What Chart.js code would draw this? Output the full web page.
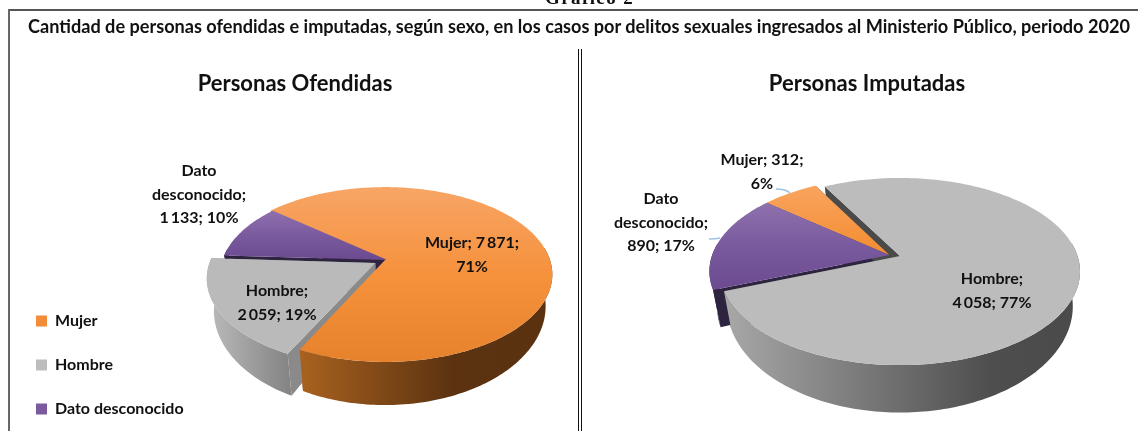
<!DOCTYPE html>
<html lang="es">
<head>
<meta charset="utf-8">
<title>Gráfico 2</title>
<script src="https://cdn.jsdelivr.net/npm/chart.js@4/dist/chart.umd.min.js"></script>
<style>
  html, body { margin: 0; padding: 0; background: #fff; }
  #page { position: relative; width: 1138px; height: 431px; overflow: hidden; font-family: Lato, sans-serif; filter: blur(0.45px); }
  #grafico { position: absolute; left: 545px; top: -12px; font: bold 19px/19px "Liberation Serif", serif; letter-spacing: 1.4px; color: #111; white-space: nowrap; }
  #titulo { position: absolute; left: 28px; top: 15px; font: bold 18.14px/22px Lato, sans-serif; color: #111; white-space: nowrap; }
  .line { position: absolute; }
  canvas { position: absolute; top: 0; }
</style>
</head>
<body>
<div id="page">
  <div id="grafico">Gráfico 2</div>
  <div class="line" style="left:8px;top:9px;width:1130px;height:2px;background:#555"></div>
  <div class="line" style="left:8px;top:9px;width:2px;height:422px;background:#666"></div>
  <div id="titulo">Cantidad de personas ofendidas e imputadas, según sexo, en los casos por delitos sexuales ingresados al Ministerio Público, periodo 2020</div>
  <canvas id="ofendidas" style="left:0" width="582" height="445"></canvas>
  <canvas id="imputadas" style="left:596px" width="542" height="445"></canvas>
  <div class="line" style="left:578px;top:49px;width:1px;height:382px;background:#111"></div>
  <div class="line" style="left:581px;top:49px;width:1px;height:382px;background:#111"></div>
</div>
<script>
const categories = ["Mujer", "Hombre", "Dato desconocido"];
const ofendidas_values = [7871, 2059, 1133];
const imputadas_values = [312, 4058, 890];
const legend_colors = ["#f28c38", "#bdbdbd", "#7b5a9e"];

const text_color = "#111";

// number with a thin space as thousands mark, the way the source writes it
function fmt(n) {
  return String(n).replace(/\B(?=(\d{3})+$)/g, "\u2009");
}

// Chart.js has no 3D pie, so this plugin takes the arcs the library computed
// and paints them through a perspective projection with a side wall.
const pie3d = {
  id: "pie3d",
  beforeDatasetsDraw(chart, args, opts) {
    const ctx = chart.ctx;
    const arcs = chart.getDatasetMeta(0).data;
    const k = opts.k;

    const project = (u, v) => {
      const s = 1 / (1 - k * v);
      return { x: opts.cx + opts.rx * u * s, y: opts.cy + opts.ry * v * s, s: s, v: v };
    };
    const lower = (p) => ({
      x: opts.cx + (p.x - opts.cx) * opts.shrink,
      y: p.y + opts.depth * p.s * p.s,
    });
    const poly = (pts, fill) => {
      ctx.beginPath();
      pts.forEach((p, i) => (i ? ctx.lineTo(p.x, p.y) : ctx.moveTo(p.x, p.y)));
      ctx.closePath();
      ctx.fillStyle = fill;
      ctx.fill();
    };
    const gradient = (x0, y0, x1, y1, stops) => {
      if (typeof stops === "string") return stops;
      const g = ctx.createLinearGradient(x0, y0, x1, y1);
      stops.forEach((s) => g.addColorStop(s[0], s[1]));
      return g;
    };

    // outline of each slice in screen space
    const slices = arcs.map((el, i) => {
      const arc = el.getProps(["startAngle", "endAngle"], true);
      const off = opts.offsets[i];
      const rim = [];
      const steps = Math.max(4, Math.ceil((arc.endAngle - arc.startAngle) / 0.02));
      for (let n = 0; n <= steps; n++) {
        const a = arc.startAngle + ((arc.endAngle - arc.startAngle) * n) / steps;
        rim.push(project(Math.cos(a) + off[0], Math.sin(a) + off[1]));
      }
      return { rim: rim, apex: project(off[0], off[1]) };
    });

    ctx.save();
    // cut faces first, then outer walls, then every top face over them
    opts.order.forEach((i) => {
      const { rim, apex } = slices[i];
      const first = rim[0];
      const last = rim[rim.length - 1];
      poly([apex, first, lower(first), lower(apex)], opts.cutColors[i]);
      poly([apex, last, lower(last), lower(apex)], opts.cutColors[i]);
    });
    opts.order.forEach((i) => {
      // only the part of the rim that faces the viewer
      const front = slices[i].rim.filter((p) => p.v > -0.15);
      if (front.length < 2) return;
      const xs = front.map((p) => p.x);
      const wall = front.concat(front.map(lower).reverse());
      poly(wall, gradient(Math.min(...xs), 0, Math.max(...xs), 0, opts.wallStops[i]));
    });
    opts.order.forEach((i) => {
      const { rim, apex } = slices[i];
      const ys = rim.concat([apex]).map((p) => p.y);
      poly([apex].concat(rim), gradient(0, Math.min(...ys), 0, Math.max(...ys), opts.faceStops[i]));
    });

    // leader lines
    ctx.strokeStyle = "#9dc3e6";
    ctx.lineWidth = 1.4;
    opts.leaders.forEach((l) => {
      ctx.beginPath();
      ctx.moveTo(l[0], l[1]);
      ctx.quadraticCurveTo(l[2], l[3], l[4], l[5]);
      ctx.stroke();
    });

    // data labels: "category; value; percent" broken where the source breaks them
    const values = chart.data.datasets[0].data;
    const total = values.reduce((a, b) => a + b, 0);
    ctx.fillStyle = text_color;
    ctx.font = opts.labelFont;
    ctx.textAlign = "center";
    ctx.textBaseline = "middle";
    opts.labels.forEach((l, i) => {
      const text = `${chart.data.labels[i]}; ${fmt(values[i])}; ${Math.round((values[i] / total) * 100)}%`;
      const words = text.split(" ");
      let start = 0;
      const lines = l.breaks.concat([words.length]).map((end) => {
        const line = words.slice(start, end).join(" ");
        start = end;
        return line;
      });
      lines.forEach((line, n) => ctx.fillText(line, l.x, l.y + n * opts.labelLeading));
    });
    ctx.restore();
    return false; // arcs already painted
  },
};

function pie_chart(canvas_id, values, title, show_legend, pie_options) {
  return new Chart(document.getElementById(canvas_id), {
    type: "pie",
    data: {
      labels: categories,
      datasets: [{ data: values, backgroundColor: legend_colors, borderWidth: 0 }],
    },
    options: {
      responsive: false,
      animation: false,
      rotation: pie_options.rotation,
      layout: { padding: { left: show_legend ? 8 : 0 } },
      plugins: {
        tooltip: { enabled: false },
        title: {
          display: true,
          text: title,
          color: text_color,
          font: { family: "Lato", size: 22, weight: "bold" },
          padding: { top: 71, bottom: 0 },
        },
        legend: {
          display: show_legend,
          position: "left",
          align: "end",
          labels: {
            boxWidth: 11,
            boxHeight: 11,
            padding: 28,
            color: text_color,
            font: { family: "Lato", size: 16, weight: "bold" },
          },
        },
        pie3d: pie_options,
      },
    },
    plugins: [pie3d],
  });
}

pie_chart("ofendidas", ofendidas_values, "Personas Ofendidas", true, {
  rotation: 310,
  cx: 385, cy: 260, rx: 165, ry: 85, k: 0.166, depth: 30, shrink: 0.96,
  order: [0, 2, 1],
  offsets: [[0, 0], [-0.058, 0.035], [0.015, 0]],
  cutColors: ["#7a4416", "#8a8a8a", "#2f2440"],
  wallStops: [
    [[0, "#a9621f"], [0.6, "#5c3311"], [1, "#5a3210"]],
    [[0, "#bcbcbc"], [1, "#858585"]],
    "#2f2440",
  ],
  faceStops: [
    [[0, "#f7a566"], [0.5, "#f6913c"], [1, "#e6812c"]],
    "#bababa",
    [[0, "#8f70ad"], [0.5, "#7a5a9e"], [1, "#6b4a90"]],
  ],
  leaders: [],
  labelFont: "bold 16px Lato",
  labelLeading: 23.5,
  labels: [
    { x: 472, y: 243, breaks: [2] },
    { x: 277, y: 291, breaks: [1] },
    { x: 199, y: 171, breaks: [1, 2] },
  ],
});

pie_chart("imputadas", imputadas_values, "Personas Imputadas", false, {
  rotation: 309.6,
  cx: 304, cy: 256, rx: 177.5, ry: 91, k: 0.166, depth: 33, shrink: 0.96,
  order: [0, 2, 1],
  offsets: [[-0.06, -0.012], [0, 0], [-0.06, -0.012]],
  cutColors: ["#555555", "#4a4a4a", "#2f2440"],
  wallStops: [
    "#7a4416",
    [[0, "#a8a8a8"], [0.75, "#4e4e4e"], [1, "#4a4a4a"]],
    "#2f2440",
  ],
  faceStops: [
    [[0, "#f8a45f"], [1, "#f48c30"]],
    "#bcbcbc",
    [[0, "#8f70ad"], [0.5, "#7a5a9e"], [1, "#6b4a90"]],
  ],
  leaders: [[180, 189, 190, 189, 194, 193], [113, 239, 120, 239, 124, 238]],
  labelFont: "bold 16px Lato",
  labelLeading: 23.5,
  labels: [
    { x: 166, y: 160, breaks: [2] },
    { x: 396, y: 279, breaks: [1] },
    { x: 65, y: 199, breaks: [1, 2] },
  ],
});
</script>
</body>
</html>
